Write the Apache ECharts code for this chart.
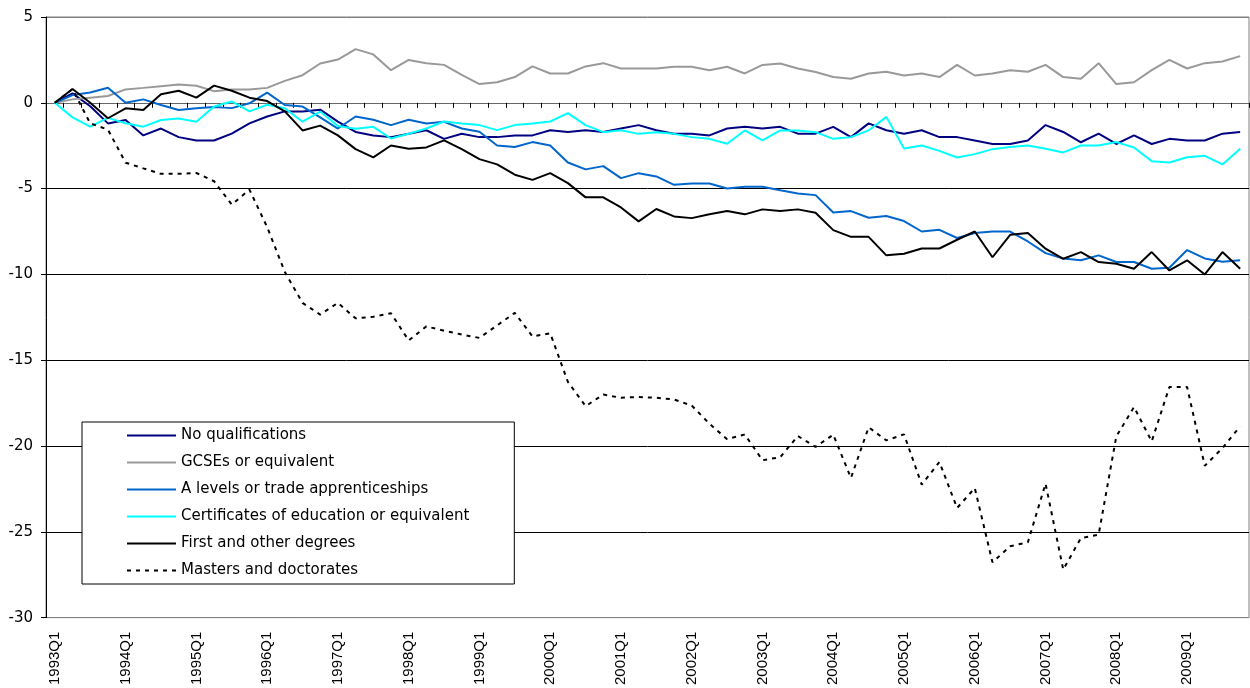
<!DOCTYPE html>
<html>
<head>
<meta charset="utf-8">
<title>Qualifications chart</title>
<script src="https://cdn.jsdelivr.net/npm/echarts@6/dist/echarts.min.js"></script>
<style>
  html, body { margin: 0; padding: 0; background: #fff; }
  #chart { width: 1250px; height: 688px; }
</style>
</head>
<body>
<div id="chart"></div>
<script>
// quarters 1993Q1 .. 2009Q4
var quarters = [];
for (var y = 1993; y <= 2009; y++) {
    for (var q = 1; q <= 4; q++) {
        quarters.push(y + 'Q' + q);
    }
}

var seriesNames = [
    'No qualifications',
    'GCSEs or equivalent',
    'A levels or trade apprenticeships',
    'Certificates of education or equivalent',
    'First and other degrees',
    'Masters and doctorates'
];

var noQual = [0, 0.55, -0.2, -1.2, -1.0, -1.9, -1.5, -2.0, -2.2, -2.2, -1.8, -1.2, -0.8, -0.5, -0.5, -0.4, -1.1,
    -1.7, -1.9, -2.0, -1.8, -1.6, -2.1, -1.8, -2.0, -2.0, -1.9, -1.9, -1.6, -1.7, -1.6, -1.7, -1.5,
    -1.3, -1.6, -1.8, -1.8, -1.9, -1.5, -1.4, -1.5, -1.4, -1.8, -1.8, -1.4, -2.0, -1.2, -1.6, -1.8, -1.6, -2.0,
    -2.0, -2.2, -2.4, -2.4, -2.2, -1.3, -1.7, -2.3, -1.8, -2.4, -1.9, -2.4, -2.1, -2.2, -2.2, -1.8, -1.7];

var gcse = [0, 0.2, 0.3, 0.4, 0.78, 0.87, 0.97, 1.07, 0.99, 0.68, 0.78, 0.78, 0.87, 1.28, 1.61, 2.29, 2.52,
    3.13, 2.82, 1.9, 2.5, 2.31, 2.21, 1.63, 1.09, 1.2, 1.5, 2.12, 1.71, 1.71, 2.12, 2.31, 2.0,
    2.0, 2.0, 2.1, 2.1, 1.9, 2.1, 1.71, 2.21, 2.29, 2.0, 1.79, 1.5, 1.4, 1.71, 1.81, 1.59, 1.71, 1.5,
    2.21, 1.59, 1.71, 1.9, 1.81, 2.21, 1.5, 1.4, 2.31, 1.09, 1.2, 1.9, 2.5, 2.0, 2.31, 2.41, 2.72];

var aLevels = [0, 0.45, 0.6, 0.88, 0.0, 0.2, -0.13, -0.42, -0.32, -0.24, -0.31, -0.03, 0.59, -0.13, -0.22, -0.85, -1.5,
    -0.8, -0.99, -1.3, -0.99, -1.2, -1.11, -1.5, -1.69, -2.49, -2.58, -2.29, -2.49, -3.48, -3.88, -3.69, -4.39,
    -4.1, -4.29, -4.78, -4.7, -4.7, -4.99, -4.89, -4.89, -5.09, -5.28, -5.38, -6.39, -6.31, -6.7, -6.6, -6.89, -7.5, -7.4,
    -7.88, -7.59, -7.5, -7.5, -8.08, -8.76, -9.07, -9.18, -8.89, -9.28, -9.28, -9.67, -9.61, -8.58, -9.07, -9.26, -9.18];

var certs = [0, -0.85, -1.39, -0.88, -1.19, -1.39, -1.0, -0.92, -1.1, -0.22, 0.08, -0.5, -0.11, -0.32, -1.1, -0.51, -1.35,
    -1.51, -1.4, -2.08, -1.8, -1.5, -1.09, -1.2, -1.3, -1.59, -1.3, -1.2, -1.09, -0.6, -1.3, -1.71, -1.6,
    -1.81, -1.71, -1.81, -2.0, -2.1, -2.39, -1.61, -2.19, -1.61, -1.61, -1.71, -2.1, -2.0, -1.61, -0.82, -2.66, -2.49, -2.8,
    -3.19, -2.99, -2.7, -2.58, -2.49, -2.68, -2.89, -2.49, -2.49, -2.29, -2.6, -3.4, -3.48, -3.17, -3.09, -3.59, -2.68];

var degrees = [0, 0.8, 0.0, -0.9, -0.32, -0.42, 0.5, 0.7, 0.3, 1.0, 0.7, 0.3, 0.1, -0.5, -1.61, -1.33, -1.9,
    -2.7, -3.18, -2.49, -2.68, -2.6, -2.19, -2.7, -3.28, -3.59, -4.19, -4.49, -4.1, -4.68, -5.51, -5.51, -6.1,
    -6.91, -6.19, -6.62, -6.72, -6.5, -6.31, -6.5, -6.21, -6.31, -6.21, -6.41, -7.42, -7.81, -7.81, -8.89, -8.8, -8.49, -8.49,
    -7.98, -7.5, -9.0, -7.69, -7.59, -8.5, -9.09, -8.7, -9.28, -9.38, -9.67, -8.7, -9.77, -9.18, -10.0, -8.7, -9.67];

var masters = [0, 0.8, -1.2, -1.56, -3.49, -3.82, -4.14, -4.14, -4.09, -4.57, -5.93, -5.06, -7.24, -9.86, -11.66, -12.34, -11.66,
    -12.56, -12.47, -12.26, -13.85, -13.03, -13.28, -13.5, -13.7, -12.97, -12.24, -13.62, -13.43, -16.26, -17.68, -17.0, -17.19,
    -17.14, -17.19, -17.29, -17.64, -18.7, -19.6, -19.33, -20.83, -20.65, -19.42, -20.05,
    -19.34, -21.86, -18.91, -19.67, -19.32, -22.25, -20.93, -23.61, -22.45, -26.78, -25.84, -25.61, -22.19,
    -27.2, -25.36, -25.17, -19.44, -17.73, -19.73, -16.56, -16.56, -21.15, -20.12, -18.85];

var seriesData = [noQual, gcse, aLevels, certs, degrees, masters];
var seriesColors = ['#000080', '#999999', '#0066cc', '#00ffff', '#000000', '#000000'];

var font = "'Liberation Sans', Arial, sans-serif";
var wideFont = "'DejaVu Sans', 'Liberation Sans', Arial, sans-serif";

var chart = echarts.init(document.getElementById('chart'), null, { renderer: 'canvas' });

var series = seriesData.map(function (data, idx) {
    return {
        name: seriesNames[idx],
        type: 'line',
        xAxisIndex: 0,
        data: data,
        symbol: 'none',
        lineStyle: {
            color: seriesColors[idx],
            width: 2,
            type: idx === 5 ? [4, 5] : 'solid'
        },
        itemStyle: { color: seriesColors[idx] }
    };
});

var option = {
    animation: false,
    backgroundColor: '#fff',
    grid: {
        left: 46,
        right: 1,
        top: 17,
        bottom: 70,
        show: true,
        borderColor: '#808080',
        borderWidth: 1
    },
    legend: {
        orient: 'vertical',
        left: 82,
        top: 422,
        data: seriesNames,
        itemWidth: 49,
        itemHeight: 14,
        itemGap: 12,
        padding: [6, 45, 6, 44],
        backgroundColor: '#fff',
        borderColor: '#000',
        borderWidth: 1,
        itemStyle: { opacity: 0 },
        textStyle: { fontFamily: wideFont, fontSize: 15, color: '#000' }
    },
    xAxis: [{
        type: 'category',
        data: quarters,
        boundaryGap: true,
        axisLine: { onZero: true, lineStyle: { color: '#666', width: 1 } },
        axisTick: { show: true, interval: 0, length: 5, lineStyle: { color: '#000' } },
        axisLabel: { show: false },
        splitLine: { show: false }
    }, {
        type: 'category',
        data: quarters,
        position: 'bottom',
        boundaryGap: true,
        axisLine: { show: false, onZero: false },
        axisTick: { show: false },
        axisLabel: {
            interval: 3,
            rotate: 90,
            margin: 14,
            fontFamily: font,
            fontSize: 15,
            color: '#000'
        }
    }],
    yAxis: {
        type: 'value',
        min: -30,
        max: 5,
        interval: 5,
        axisLine: { show: true, lineStyle: { color: '#000' } },
        axisTick: { show: true, length: 5, lineStyle: { color: '#000' } },
        axisLabel: { margin: 13, fontFamily: wideFont, fontSize: 15, color: '#000' },
        splitLine: {
            show: true,
            lineStyle: {
                color: ['#808080', '#000', '#000', '#000', '#000', '#000', '#808080', '#808080'],
                width: 1
            }
        }
    },
    series: series
};

chart.setOption(option);
</script>
</body>
</html>
